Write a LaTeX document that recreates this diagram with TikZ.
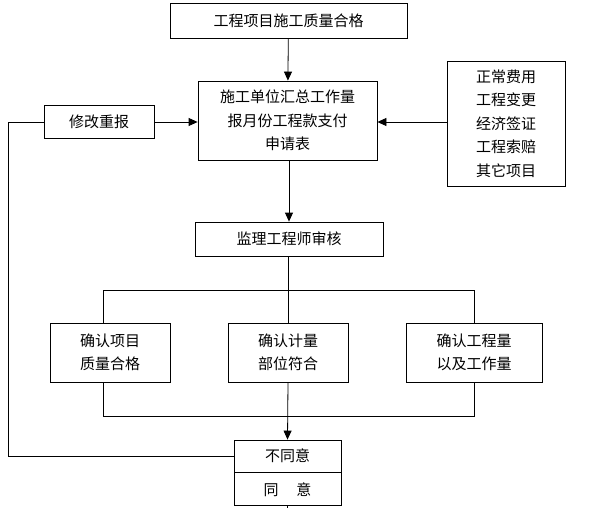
\documentclass[tikz,border=0pt]{standalone}
\usepackage{fontspec}
\newfontfamily\cjk{Noto Sans CJK SC}
\usetikzlibrary{arrows.meta}
\begin{document}
\begin{tikzpicture}[x=1pt,y=-1pt,
  box/.style={draw, line width=0.8pt, inner sep=0pt, align=center,
    font=\cjk\fontsize{15}{23.5}\selectfont},
  ln/.style={line width=0.8pt},
  arr/.style={line width=0.8pt, -{Triangle[length=9pt,width=8pt]}}]
\useasboundingbox[fill=white] (0,0) rectangle (610,508);
% nodes
\node[box, minimum width=237pt, minimum height=35pt] (top) at (288.5,20.5) {工程项目施工质量合格};
\node[box, minimum width=179pt, minimum height=79pt] (main) at (287.5,120.5) {施工单位汇总工作量\\报月份工程款支付\\申请表};
\node[box, minimum width=110pt, minimum height=33pt] (xg) at (99,122) {修改重报};
\node[box, minimum width=118pt, minimum height=125pt] (rt) at (506,123.5) {正常费用\\工程变更\\经济签证\\工程索赔\\其它项目};
\node[box, minimum width=188pt, minimum height=34pt] (jl) at (289,239) {监理工程师审核};
\node[box, minimum width=120pt, minimum height=59pt] (b1) at (110,352.5) {确认项目\\质量合格};
\node[box, minimum width=120pt, minimum height=59pt] (b2) at (288,352.5) {确认计量\\部位符合};
\node[box, minimum width=136pt, minimum height=59pt] (b3) at (474,352.5) {确认工程量\\以及工作量};
\node[box, minimum width=107pt, minimum height=32pt] (no) at (287.5,456) {不同意};
\node[box, minimum width=107pt, minimum height=33pt, anchor=north] (yes) at (no.south) {同\hspace{1.2em}意};
% coordinates
\coordinate (lc) at (8,122);
\coordinate (tl) at (103,290);
\coordinate (tr) at (474,290);
\coordinate (bl) at (103,416);
\coordinate (br) at (474,416);
\coordinate (stub) at (287.5,508);
% connectors
\draw[arr] (top) -- (main);
\draw[arr] (xg.east) -- (xg.east -| main.west);
\draw[arr] (rt.west |- xg.east) -- (main.east |- xg.east);
\draw[ln] (no.west) -| (lc) -- (xg.west);
\draw[arr] (main.south -| jl.north) -- (jl.north);
\draw[ln] (jl.south -| b2.north) -- (b2.north);
\draw[ln] (tl) -- (tr);
\draw[ln] (tl) -- (tl |- b1.north);
\draw[ln] (tr) -- (tr |- b3.north);
\draw[ln] (tl |- b1.south) -- (bl) -- (br) -- (tr |- b3.south);
\draw[arr] (b2.south) -- (no.north);
\draw[ln] (yes.south) -- (stub);
\end{tikzpicture}
\end{document}
